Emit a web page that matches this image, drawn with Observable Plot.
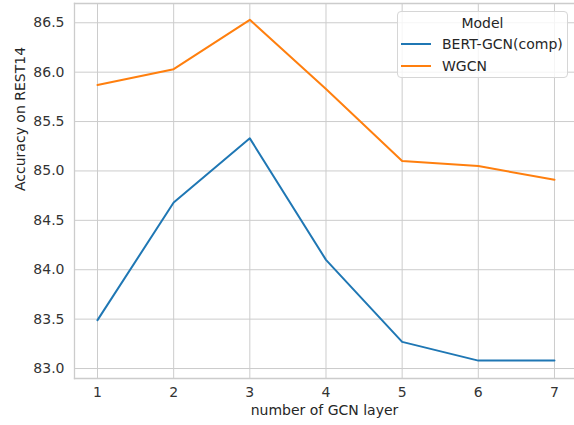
<!DOCTYPE html>
<html><head><meta charset="utf-8">
<script src="https://cdn.jsdelivr.net/npm/d3@7"></script>
<script src="https://cdn.jsdelivr.net/npm/@observablehq/plot@0.6"></script>
<style>
body{margin:0;background:#fff;font-family:"DejaVu Sans",sans-serif;}
#wrap{position:relative;width:574px;height:425px;}
#legend{position:absolute;left:397px;top:11px;width:171px;height:67px;border:1px solid #d6d6d6;border-radius:4px;background:rgba(255,255,255,0.8);font-size:14px;color:#262626;box-sizing:border-box;}
#legend .title{position:absolute;left:0;right:0;top:3px;text-align:center;}
#legend .row{position:absolute;left:3px;height:18px;display:flex;align-items:center;}
#legend .sw{width:30px;height:2px;margin-right:11px;}
</style></head>
<body><div id="wrap"></div>
<script>
const layers = [1, 2, 3, 4, 5, 6, 7];
const seriesNames = ["BERT-GCN(comp)", "WGCN"];
const bertGcn = [83.49, 84.68, 85.33, 84.10, 83.27, 83.08, 83.08];
const wgcn = [85.87, 86.03, 86.53, 85.83, 85.10, 85.05, 84.91];
const yTicks = [83.0, 83.5, 84.0, 84.5, 85.0, 85.5, 86.0, 86.5];
const colors = ["#1f77b4", "#ff7f0e"];
const legendTitle = "Model";
const xLabel = "number of GCN layer";
const yLabel = "Accuracy on REST14";

const data = [];
[bertGcn, wgcn].forEach((vals, i) => vals.forEach((v, j) => data.push({layer: layers[j], acc: v, model: seriesNames[i]})));

const chart = Plot.plot({
  width: 574, height: 425,
  marginLeft: 74, marginTop: 3, marginBottom: 47, marginRight: 0,
  style: {fontFamily: "DejaVu Sans, sans-serif", fontSize: "14px", color: "#333", background: "#fff"},
  x: {domain: [0.698, 7.263], axis: null},
  y: {domain: [82.899, 86.695], axis: null},
  color: {domain: seriesNames, range: colors},
  marks: [
    Plot.gridX(layers, {stroke: "#cccccc", strokeOpacity: 1, strokeWidth: 1}),
    Plot.gridY(yTicks, {stroke: "#cccccc", strokeOpacity: 1, strokeWidth: 1}),
    Plot.frame({anchor: "left", stroke: "#cccccc", strokeWidth: 1.3}),
    Plot.frame({anchor: "bottom", stroke: "#cccccc", strokeWidth: 1.3}),
    Plot.frame({anchor: "top", stroke: "#cccccc", strokeWidth: 1.3}),
    Plot.axisX(layers, {tickSize: 0, tickPadding: 9, label: null, fill: "#333", fontSize: 14}),
    Plot.axisY(yTicks, {tickSize: 0, tickPadding: 10, tickFormat: d3.format(".1f"), label: null, fill: "#333", fontSize: 14}),
    Plot.text([xLabel], {frameAnchor: "bottom", dy: 36, fill: "#262626", fontSize: 14}),
    Plot.text([yLabel], {frameAnchor: "left", rotate: -90, dx: -54, fill: "#262626", fontSize: 14}),
    Plot.line(data, {x: "layer", y: "acc", stroke: "model", strokeWidth: 2, z: "model"})
  ]
});
const wrap = document.getElementById("wrap");
wrap.appendChild(chart);
const lg = document.createElement("div");
lg.id = "legend";
let html = `<div class="title">${legendTitle}</div>`;
seriesNames.forEach((n, i) => {
  html += `<div class="row" style="top:${23 + i * 22}px"><div class="sw" style="background:${colors[i]}"></div><span>${n}</span></div>`;
});
lg.innerHTML = html;
wrap.appendChild(lg);
</script></body></html>
